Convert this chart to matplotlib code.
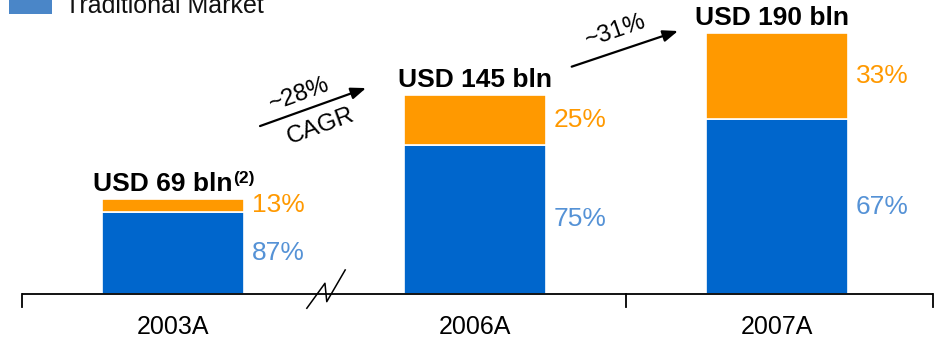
import matplotlib
matplotlib.use("Agg")
import matplotlib.pyplot as plt
from matplotlib.patches import Rectangle

plt.rcParams.update({
    "font.family": ["Liberation Sans", "DejaVu Sans"],
})

# market size by year, USD bln, and split in percent
YEARS = ["2003A", "2006A", "2007A"]
TOTALS = [69, 145, 190]
TRAD_SHARE = [87, 75, 67]
NEW_SHARE = [13, 25, 33]
TOTAL_LABELS = ["USD 69 bln", "USD 145 bln", "USD 190 bln"]
CAGR_LABELS = ["~28%", "~31%"]
LEGEND_LABEL = "Traditional Market"

BLUE = "#0066cc"
ORANGE = "#ff9900"
BLUE_TXT = "#5592d6"
LEGEND_BLUE = "#4a86c8"
INK = "#000000"

PX = 0.72  # points per pixel at dpi 100

fig = plt.figure(figsize=(9.35, 3.45), dpi=100)
ax = fig.add_axes([0, 0, 1, 1])
ax.set_xlim(-0.573, 2.523)
ax.set_ylim(-37.2, 214.3)
ax.axis("off")

xs = list(range(len(YEARS)))
bw = 0.47
trad = [t * s / 100 for t, s in zip(TOTALS, TRAD_SHARE)]
new = [t * s / 100 for t, s in zip(TOTALS, NEW_SHARE)]

ax.bar(xs, trad, width=bw, color=BLUE, edgecolor="white", linewidth=1.2, zorder=2)
ax.bar(xs, new, bottom=trad, width=bw, color=ORANGE, edgecolor="white",
       linewidth=1.2, zorder=2)

# baseline with ticks at category boundaries (no tick at the axis break)
ax.plot([-0.5, 2.517], [0, 0], color=INK, lw=1.3, zorder=3, solid_capstyle="butt")
for xt in [-0.5, 1.5, 2.517]:
    ax.plot([xt, xt], [0, -9.5], color=INK, lw=1.3, zorder=3)

# break mark between 2003A and 2006A
ax.plot([0.443, 0.503, 0.509, 0.570], [-10.4, 7.8, -5.6, 17.5],
        color=INK, lw=1.1, zorder=4)

for x, y in zip(xs, YEARS):
    ax.annotate(y, (x, 0), xytext=(0, -33 * PX), textcoords="offset points",
                ha="center", va="center", fontsize=18, color=INK)

# segment shares to the right of each bar
for x, tv, nv, ts, ns in zip(xs, trad, new, TRAD_SHARE, NEW_SHARE):
    ax.annotate(f"{ts}%", (x + bw / 2, tv / 2), xytext=(8 * PX, 0),
                textcoords="offset points", ha="left", va="center",
                fontsize=19, color=BLUE_TXT)
    ax.annotate(f"{ns}%", (x + bw / 2, tv + nv / 2), xytext=(8 * PX, 0),
                textcoords="offset points", ha="left", va="center",
                fontsize=19, color=ORANGE)

# totals above bars
for i, (x, tot, lab) in enumerate(zip(xs, TOTALS, TOTAL_LABELS)):
    dx = -10 if i == 0 else -5 if i == 2 else 0
    t = ax.annotate(lab, (x, tot), xytext=(dx * PX, 3 * PX),
                    textcoords="offset points", ha="center", va="bottom",
                    fontsize=19, fontweight="bold", color=INK)
    if i == 0:
        ax.annotate("(2)", (1, 1), xycoords=t, xytext=(0.5, 1),
                    textcoords="offset points", ha="left", va="top",
                    fontsize=12.5, fontweight="bold", color=INK)

# growth arrows
ax.annotate("", xy=(0.639, 150.1), xytext=(0.288, 122.4),
            arrowprops=dict(arrowstyle="-|>,head_length=0.9,head_width=0.35",
                            color=INK, lw=1.6, shrinkA=0, shrinkB=0))
ax.text(0.417, 145.0, CAGR_LABELS[0], rotation=20, ha="center", va="center",
        fontsize=17.5, color=INK, rotation_mode="anchor")
ax.text(0.490, 122.5, "CAGR", rotation=20, ha="center", va="center",
        fontsize=17.5, color=INK, rotation_mode="anchor")

ax.annotate("", xy=(1.672, 191.7), xytext=(1.320, 165.7),
            arrowprops=dict(arrowstyle="-|>,head_length=0.9,head_width=0.35",
                            color=INK, lw=1.6, shrinkA=0, shrinkB=0))
ax.text(1.467, 191.7, CAGR_LABELS[1], rotation=19, ha="center", va="center",
        fontsize=17.5, color=INK, rotation_mode="anchor")

# legend entry, partly above the top edge
fig.patches.append(Rectangle((9 / 935, 1 - 14 / 345), 43 / 935, 20 / 345,
                             transform=fig.transFigure, facecolor=LEGEND_BLUE,
                             edgecolor="none"))
fig.text(65 / 935, 1 - 13 / 345, LEGEND_LABEL, ha="left", va="baseline",
         fontsize=18, color="#111111")

fig.savefig("out.png", dpi=100, facecolor="white")
